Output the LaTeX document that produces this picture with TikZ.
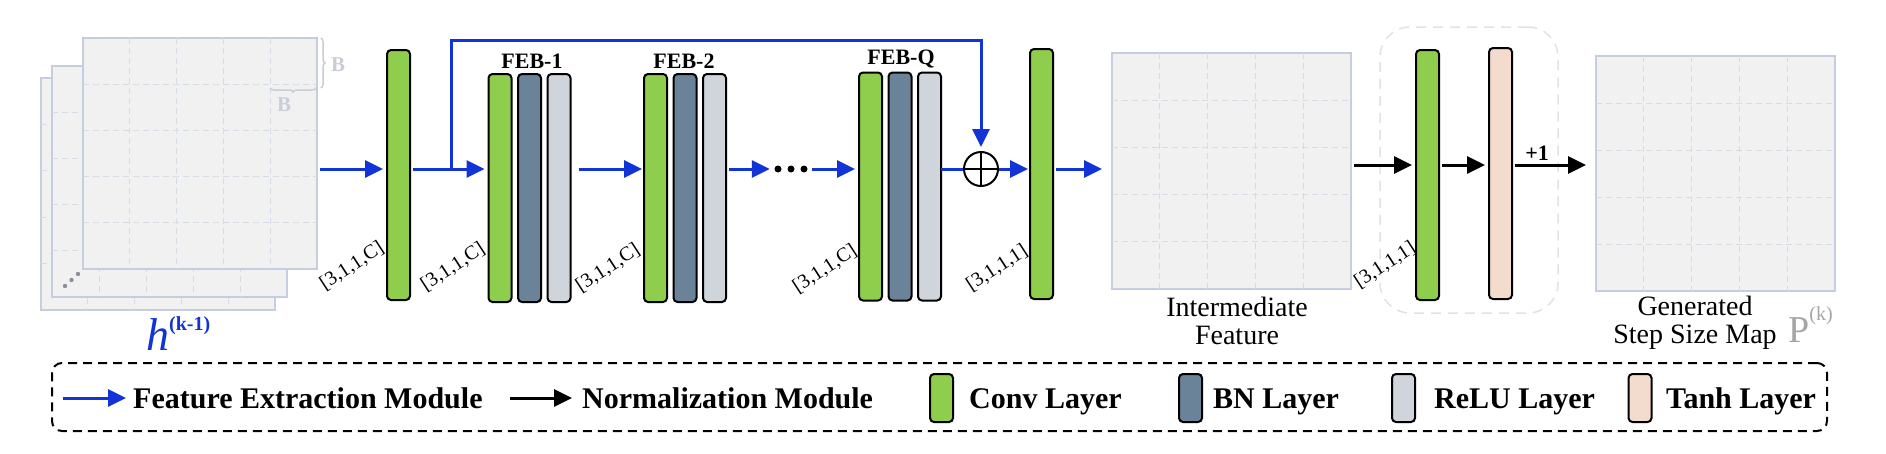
\documentclass[tikz,border=0pt]{standalone}
\usepackage{fontspec}
\setmainfont{Liberation Serif}
\usetikzlibrary{positioning,calc,arrows.meta,decorations.pathreplacing}

\definecolor{featblue}{RGB}{18,52,214}
\definecolor{convgreen}{RGB}{143,206,76}
\definecolor{bnblue}{RGB}{107,131,153}
\definecolor{relugrey}{RGB}{208,213,220}
\definecolor{tanhpeach}{RGB}{243,220,205}
\definecolor{mapfill}{RGB}{241,241,242}
\definecolor{mapedge}{RGB}{196,206,224}
\definecolor{griddash}{RGB}{214,220,230}
\definecolor{softgrey}{RGB}{200,205,215}
\definecolor{pgrey}{RGB}{165,165,165}
\definecolor{groupgrey}{RGB}{226,226,228}

\newcommand{\fsz}[1]{\fontsize{#1}{#1}\selectfont}
\newcommand{\mapgrid}[1]{%
  \foreach \i in {1,...,4} {
    \draw[gridline] ($(#1.north west)!\i/5!(#1.north east)$) -- ($(#1.south west)!\i/5!(#1.south east)$);
    \draw[gridline] ($(#1.north west)!\i/5!(#1.south west)$) -- ($(#1.north east)!\i/5!(#1.south east)$);
  }}

\tikzset{
  bar/.style={draw=black, line width=2pt, rounded corners=4pt, minimum width=23pt, inner sep=0pt, outer sep=0pt},
  conv/.style={bar, fill=convgreen},
  bn/.style={bar, fill=bnblue},
  relu/.style={bar, fill=relugrey},
  tanhl/.style={bar, fill=tanhpeach},
  fmap/.style={draw=mapedge, fill=mapfill, line width=1.5pt, inner sep=0pt, outer sep=0pt},
  gridline/.style={griddash, line width=1pt, dash pattern=on 6pt off 4pt},
  feat/.style={featblue, line width=3pt, shorten <=3pt, shorten >=4pt, -{Triangle[length=18pt,width=17pt]}},
  norm/.style={black, line width=3pt, shorten <=3pt, shorten >=4pt, -{Triangle[length=18pt,width=17pt]}},
  kern/.style={rotate=33, font=\fsz{20}},
  febtitle/.style={font=\bfseries\fsz{22}},
  legtext/.style={anchor=base west, font=\bfseries\fsz{30}, inner sep=0pt},
  legframe/.style={draw, dashed, dash pattern=on 9pt off 6pt, line width=2pt, rounded corners=10pt},
  normgroup/.style={draw=groupgrey, dashed, dash pattern=on 10pt off 7pt, line width=1.5pt, rounded corners=30pt},
}

\begin{document}
\begin{tikzpicture}[x=1pt,y=-1pt]
\useasboundingbox (0,0) rectangle (1886,453);

% input stack h^(k-1)
\node[fmap, minimum width=234pt, minimum height=232pt] (hback) at (158,194) {};
\mapgrid{hback}
\node[fmap, minimum width=235pt, minimum height=231pt] (hmid) at (169.5,181.5) {};
\mapgrid{hmid}
\node[fmap, minimum width=234pt, minimum height=231pt] (hfront) at (200,153.5) {};
\mapgrid{hfront}
\foreach \p in {(65,286),(71.5,280),(78,274)}
  \fill[softgrey!70!black] \p circle (2.2pt);
\draw[softgrey, line width=1.5pt, decorate, decoration={brace,amplitude=4pt}] (321,38) -- (321,88);
\draw[softgrey, line width=1.5pt, decorate, decoration={brace,amplitude=4pt}] (316,88) -- (270,88);
\node[softgrey, font=\bfseries\fsz{21}] (bright) at (338,65) {B};
\node[softgrey, font=\bfseries\fsz{21}] (bbottom) at (284,105) {B};
\node[anchor=base west, inner sep=0pt, text=featblue] (hlabel) at (146,350)
  {{\fsz{46}\itshape h}\raisebox{20pt}{\fsz{20}\bfseries (k-1)}};

\coordinate (lvl) at (0,169);
\coordinate (nlvl) at (0,165);

% feature extraction module
\node[conv, minimum height=250pt] (conv1) at (398.5,175) {};
\node[kern] (k1) at (352,266) {[3,1,1,C]};

\node[conv, minimum height=228pt] (feb1c) at (500,188) {};
\node[bn, minimum height=228pt, right=6.5pt of feb1c] (feb1b) {};
\node[relu, minimum height=228pt, right=6.5pt of feb1b] (feb1r) {};
\node[febtitle] (t1) at (532,61) {FEB-1};
\node[kern] (k2) at (453,267) {[3,1,1,C]};

\node[conv, minimum height=228pt] (feb2c) at (655.5,188) {};
\node[bn, minimum height=228pt, right=6.5pt of feb2c] (feb2b) {};
\node[relu, minimum height=228pt, right=6.5pt of feb2b] (feb2r) {};
\node[febtitle] (t2) at (684,61) {FEB-2};
\node[kern] (k3) at (608,268) {[3,1,1,C]};

\node[inner sep=0pt, minimum width=35pt, minimum height=10pt] (dots) at (791.5,169) {};
\foreach \x in {778,791,804}
  \fill (\x,169) circle (3.5pt);

\node[conv, minimum height=228pt] (febqc) at (870.5,186.5) {};
\node[bn, minimum height=228pt, right=6.5pt of febqc] (febqb) {};
\node[relu, minimum height=228pt, right=6.5pt of febqb] (febqr) {};
\node[febtitle] (tq) at (901,59) {FEB-Q};
\node[kern] (k4) at (825,269) {[3,1,1,C]};

\node[circle, draw, line width=2pt, minimum size=34pt, inner sep=0pt] (sum) at (981,169) {};
\draw[line width=2pt] (sum.north) -- (sum.south) (sum.west) -- (sum.east);

\node[conv, minimum height=250pt] (conv2) at (1041.5,174) {};
\node[kern] (k5) at (997,268) {[3,1,1,1]};

\node[fmap, minimum width=239pt, minimum height=236pt] (inter) at (1231.5,171) {};
\mapgrid{inter}
\node[anchor=north, align=center, inner sep=0pt, font=\fsz{28}] (intertxt) at (1237,297) {Intermediate\\Feature};

% normalization module
\node[normgroup, minimum width=178pt, minimum height=286pt] (normgrp) at (1469,170) {};
\node[conv, minimum height=250pt] (nconv) at (1427.5,175) {};
\node[tanhl, minimum height=251pt] (tanh) at (1500.5,173.5) {};
\node[kern] (k6) at (1385,265) {[3,1,1,1]};

\node[fmap, minimum width=239pt, minimum height=235pt] (outmap) at (1715.5,173.5) {};
\mapgrid{outmap}
\node[anchor=north, align=center, inner sep=0pt, font=\fsz{28}] (outtxt) at (1695,296) {Generated\\Step Size Map};
\node[anchor=base west, inner sep=0pt, text=pgrey] (plabel) at (1788,342)
  {\fsz{38}P\raisebox{22pt}{\fsz{20}(k)}};

% connectors
\draw[feat] (hfront.east |- lvl) -- (conv1.west |- lvl);
\draw[feat] (conv1.east |- lvl) -- (feb1c.west |- lvl);
\coordinate (split) at (451,169);
\draw[feat, shorten <=0pt] (split) -- ++(0,-129) -| (sum.north);
\draw[feat, shorten <=8pt, shorten >=2pt] (feb1r.east |- lvl) -- (feb2c.west |- lvl);
\draw[feat] (feb2r.east |- lvl) -- (dots.west);
\draw[feat] (dots.east) -- (febqc.west |- lvl);
\draw[featblue, line width=3pt] (febqr.east |- lvl) -- (sum.west);
\draw[feat, shorten <=0pt, shorten >=2pt] (sum.east) -- (conv2.west |- lvl);
\draw[feat, shorten >=10pt] (conv2.east |- lvl) -- (inter.west |- lvl);
\draw[norm] (inter.east |- nlvl) -- (nconv.west |- nlvl);
\draw[norm] (nconv.east |- nlvl) -- (tanh.west |- nlvl);
\draw[norm, shorten >=10pt] (tanh.east |- nlvl) -- node[pos=0.3, above=0pt, font=\bfseries\fsz{22}] (plusone) {+1} (outmap.west |- nlvl);

% legend
\node[legframe, minimum width=1775pt, minimum height=68pt] (legend) at (939.5,397) {};
\coordinate (lgfa) at (63,398);
\node[legtext] (lgfeat) at (133,408) {Feature Extraction Module};
\draw[feat, shorten <=0pt, shorten >=7pt] (lgfa) -- (lgfeat.west |- lgfa);
\coordinate (lgna) at (510,398);
\node[legtext] (lgnorm) at (582,408) {Normalization Module};
\draw[norm, shorten <=0pt, shorten >=10pt] (lgna) -- (lgnorm.west |- lgna);
\node[conv, minimum height=48pt] (lgconv) at (941.5,398) {};
\node[legtext] (lgconvt) at (969,408) {Conv Layer};
\node[bn, minimum height=48pt] (lgbn) at (1190.5,398) {};
\node[legtext] (lgbnt) at (1213,408) {BN Layer};
\node[relu, minimum height=48pt] (lgrelu) at (1403.5,398) {};
\node[legtext] (lgrelut) at (1434,408) {ReLU Layer};
\node[tanhl, minimum height=48pt] (lgtanh) at (1640,398) {};
\node[legtext] (lgtanht) at (1666,408) {Tanh Layer};
\end{tikzpicture}
\end{document}
